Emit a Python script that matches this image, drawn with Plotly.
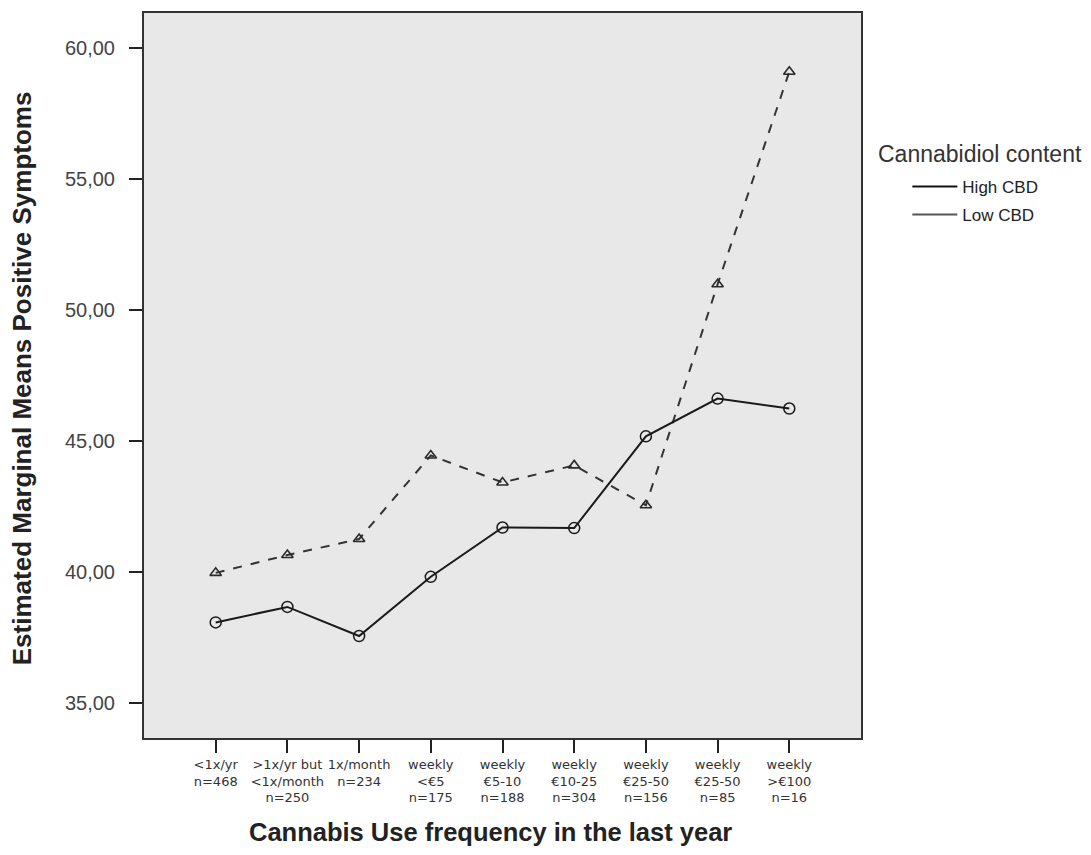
import plotly.graph_objects as go

categories = [
    "<1x/yr<br>n=468",
    ">1x/yr but<br><1x/month<br>n=250",
    "1x/month<br>n=234",
    "weekly<br><€5<br>n=175",
    "weekly<br>€5-10<br>n=188",
    "weekly<br>€10-25<br>n=304",
    "weekly<br>€25-50<br>n=156",
    "weekly<br>€25-50<br>n=85",
    "weekly<br>>€100<br>n=16",
]
high_cbd = [38.08, 38.67, 37.56, 39.82, 41.70, 41.68, 45.18, 46.62, 46.24]
low_cbd = [39.97, 40.65, 41.26, 44.45, 43.42, 44.07, 42.55, 50.98, 59.09]
y_ticks = [35, 40, 45, 50, 55, 60]
y_tick_text = ["35,00", "40,00", "45,00", "50,00", "55,00", "60,00"]

x_idx = list(range(len(categories)))
FONT = "Liberation Sans, Arial, sans-serif"

fig = go.Figure()
fig.add_trace(go.Scatter(
    x=x_idx, y=low_cbd, mode="lines+markers", showlegend=False,
    line=dict(color="#333333", width=2, dash="dash"),
    marker=dict(symbol="triangle-up-open", size=10, color="#2a2a2a", line=dict(width=1.6)),
))
fig.add_trace(go.Scatter(
    x=x_idx, y=high_cbd, mode="lines+markers", showlegend=False,
    line=dict(color="#1a1a1a", width=2),
    marker=dict(symbol="circle-open", size=11, color="#1a1a1a", line=dict(width=1.5)),
))
fig.add_trace(go.Scatter(
    x=[None], y=[None], mode="lines", name="High CBD", legendgroup="h",
    line=dict(color="#111111", width=2),
))
fig.add_trace(go.Scatter(
    x=[None], y=[None], mode="lines", name="Low CBD", legendgroup="l",
    line=dict(color="#555555", width=2),
))

fig.update_layout(
    width=1091, height=855,
    margin=dict(l=136, r=238, t=3, b=125),
    paper_bgcolor="white",
    plot_bgcolor="#e8e8e8",
    font=dict(family=FONT, color="#333333"),
    legend=dict(
        x=1.02, xanchor="left", y=0.785, yanchor="top",
        font=dict(size=17, color="#222222"),
        indentation=32,
        itemwidth=45,
        tracegroupgap=3,
        bgcolor="rgba(0,0,0,0)",
    ),
    annotations=[
        dict(text="Cannabidiol content",
             xref="paper", yref="paper", x=1.021, y=0.805,
             xanchor="left", yanchor="middle", showarrow=False,
             font=dict(size=23, color="#333333")),
        dict(text="<b>Cannabis Use frequency in the last year</b>",
             xref="paper", yref="paper", x=0.4826, y=-0.129,
             xanchor="center", yanchor="middle", showarrow=False,
             font=dict(size=25.5, color="#222222")),
        dict(text="<b>Estimated Marginal Means Positive Symptoms</b>",
             xref="paper", yref="paper", x=-0.169, y=0.496,
             xanchor="center", yanchor="middle", showarrow=False, textangle=-90,
             font=dict(size=26, color="#222222")),
    ],
)
fig.update_xaxes(
    range=[-1, 9], tickvals=x_idx, ticktext=categories,
    ticks="outside", ticklen=13, tickwidth=1.5, tickcolor="#222222",
    tickfont=dict(size=13, color="#333333", family="DejaVu Sans, sans-serif"),
    showgrid=False, zeroline=False,
    showline=True, linecolor="#333333", linewidth=2, mirror=True,
)
fig.update_yaxes(
    range=[33.67, 61.33], tickvals=y_ticks, ticktext=y_tick_text,
    ticks="outside", ticklen=13, tickwidth=1.5, tickcolor="#222222",
    tickfont=dict(size=20, color="#444444"),
    ticklabelstandoff=10,
    showgrid=False, zeroline=False,
    showline=True, linecolor="#333333", linewidth=2, mirror=True,
)

fig.write_html("out.html")
